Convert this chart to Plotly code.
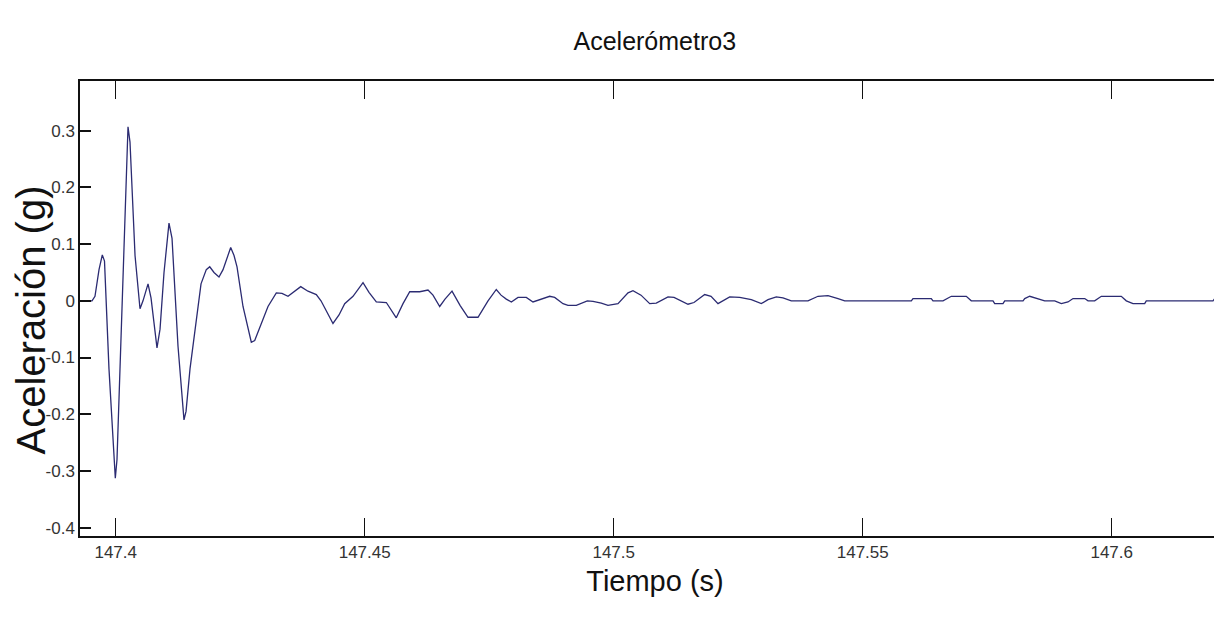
import plotly.graph_objects as go

# Time (s) and acceleration (g)
tiempo = [
    147.39283, 147.39524, 147.39584, 147.39665, 147.39731, 147.39775, 147.39865, 147.39992,
    147.40026, 147.40127, 147.40247, 147.40287, 147.40388, 147.40488, 147.40548, 147.40649,
    147.40709, 147.40829, 147.40890, 147.40970, 147.41070, 147.41131, 147.41251, 147.41371,
    147.41412, 147.41492, 147.41598, 147.41713, 147.41819, 147.41888, 147.41974, 147.42074,
    147.42155, 147.42309, 147.42376, 147.42436, 147.42556, 147.42723, 147.42791, 147.42918,
    147.43058, 147.43225, 147.43339, 147.43460, 147.43580, 147.43715, 147.43861, 147.44028,
    147.44122, 147.44363, 147.44484, 147.44598, 147.44765, 147.44966, 147.45086, 147.45233,
    147.45434, 147.45634, 147.45769, 147.45904, 147.46104, 147.46271, 147.46371, 147.46506,
    147.46612, 147.46753, 147.46914, 147.47074, 147.47275, 147.47476, 147.47642, 147.47737,
    147.47843, 147.47944, 147.48078, 147.48245, 147.48379, 147.48546, 147.48715, 147.48815,
    147.48982, 147.49082, 147.49249, 147.49470, 147.49584, 147.49751, 147.49885, 147.50086,
    147.50187, 147.50287, 147.50387, 147.50548, 147.50723, 147.50855, 147.51090, 147.51211,
    147.51492, 147.51612, 147.51827, 147.51954, 147.52094, 147.52329, 147.52530, 147.52763,
    147.52964, 147.53098, 147.53265, 147.53399, 147.53566, 147.53901, 147.54102, 147.54303,
    147.54504, 147.54638, 147.55976, 147.56010, 147.56377, 147.56411, 147.56612, 147.56713,
    147.56779, 147.57080, 147.57180, 147.57616, 147.57650, 147.57817, 147.57851, 147.58219,
    147.58253, 147.58353, 147.58486, 147.58654, 147.58855, 147.58988, 147.59122, 147.59223,
    147.59458, 147.59524, 147.59658, 147.59791, 147.60192, 147.60293, 147.60427, 147.60662,
    147.60694, 147.62034, 147.62068, 147.62200, 147.62235, 147.62375,
]
aceleracion = [
    0.0, 0.0, 0.008, 0.055, 0.081, 0.07, -0.12, -0.313,
    -0.28, 0.0, 0.307, 0.28, 0.08, -0.014, 0.0, 0.03,
    0.005, -0.083, -0.05, 0.05, 0.137, 0.11, -0.08, -0.21,
    -0.195, -0.12, -0.045, 0.03, 0.055, 0.06, 0.05, 0.042,
    0.055, 0.094, 0.08, 0.06, -0.01, -0.073, -0.07, -0.04,
    -0.01, 0.014, 0.013, 0.008, 0.016, 0.025, 0.017, 0.011,
    0.0, -0.04, -0.025, -0.005, 0.008, 0.032, 0.015, -0.002,
    -0.003, -0.03, -0.005, 0.016, 0.016, 0.019, 0.01, -0.01,
    0.003, 0.017, -0.008, -0.029, -0.029, 0.0, 0.02, 0.01,
    0.003, -0.002, 0.006, 0.006, -0.002, 0.003, 0.008, 0.006,
    -0.005, -0.008, -0.008, 0.0, -0.001, -0.004, -0.008, -0.005,
    0.004, 0.014, 0.018, 0.01, -0.005, -0.004, 0.007, 0.006,
    -0.006, -0.003, 0.011, 0.008, -0.005, 0.007, 0.006, 0.002,
    -0.005, 0.002, 0.007, 0.005, 0.0, 0.0, 0.008, 0.009,
    0.004, 0.0, 0.0, 0.004, 0.004, 0.0, 0.0, 0.004,
    0.008, 0.008, 0.0, 0.0, -0.005, -0.005, 0.0, 0.0,
    0.004, 0.008, 0.004, 0.0, 0.0, -0.005, -0.002, 0.004,
    0.004, 0.0, 0.0, 0.008, 0.008, 0.0, -0.005, -0.005,
    0.0, 0.0, 0.004, 0.004, 0.0, 0.0,
]

x_range = [147.39283, 147.62375]
y_range = [-0.4148, 0.3877]
x_ticks = [147.4, 147.45, 147.5, 147.55, 147.6]
x_labels = ["147.4", "147.45", "147.5", "147.55", "147.6"]
y_ticks = [-0.4, -0.3, -0.2, -0.1, 0, 0.1, 0.2, 0.3]
y_labels = ["-0.4", "-0.3", "-0.2", "-0.1", "0", "0.1", "0.2", "0.3"]

sans = "Liberation Sans, Arial, sans-serif"

fig = go.Figure()
fig.add_trace(go.Scatter(x=tiempo, y=aceleracion, mode="lines",
                         line=dict(color="#2b2b72", width=1.3), showlegend=False))
# invisible trace on right axis for mirrored ticks without a right border line
fig.add_trace(go.Scatter(x=[tiempo[0]], y=[aceleracion[0]], yaxis="y2", mode="lines",
                         line=dict(width=0), showlegend=False, hoverinfo="skip"))

fig.update_layout(
    width=1222, height=626,
    margin=dict(l=72, r=0, t=73, b=98),
    paper_bgcolor="white", plot_bgcolor="white",
    title=dict(text="Acelerómetro3", x=0.5293, xanchor="center", y=0.947, yanchor="middle",
               font=dict(family=sans, size=25, color="#111111")),
    xaxis=dict(range=x_range, tickvals=x_ticks, ticktext=x_labels,
               ticks="inside", ticklen=18, tickwidth=1, tickcolor="#111111",
               showline=True, linecolor="#111111", linewidth=1.5, mirror="ticks",
               showgrid=False, zeroline=False,
               tickfont=dict(family=sans, size=17, color="#333333"),
               title=dict(text="Tiempo (s)", standoff=10,
                          font=dict(family=sans, size=29, color="#111111"))),
    yaxis=dict(range=y_range, tickvals=y_ticks, ticktext=y_labels,
               ticks="inside", ticklen=11, tickwidth=2, tickcolor="#111111",
               showline=True, linecolor="#111111", linewidth=1.5, mirror=False,
               showgrid=False, zeroline=False,
               tickfont=dict(family=sans, size=17, color="#333333")),
    yaxis2=dict(range=y_range, tickvals=y_ticks, overlaying="y", side="right",
                ticks="inside", ticklen=11, tickwidth=2, tickcolor="#111111",
                showline=False, showgrid=False, zeroline=False, showticklabels=False),
    annotations=[dict(text="Aceleración (g)", textangle=-90, xref="paper", yref="paper",
                      x=0, y=0.5, xanchor="center", yanchor="middle",
                      xshift=-50, yshift=-12, showarrow=False,
                      font=dict(family=sans, size=40, color="#111111"))],
)

fig.write_html("out.html")
